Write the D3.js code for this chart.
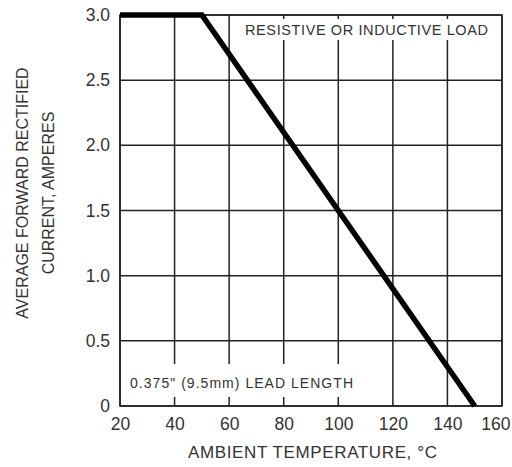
<!DOCTYPE html>
<html>
<head>
<meta charset="utf-8">
<script src="https://cdn.jsdelivr.net/npm/d3@7"></script>
<style>
  body { margin: 0; background: #fff; }
  text { font-family: "Liberation Sans", Arial, sans-serif; fill: #333; }
</style>
</head>
<body>
<script>
// derating curve: temperature (C) vs current (A)
var temps = [20, 50, 150];
var amps = [3.0, 3.0, 0];

var xTicks = [20, 40, 60, 80, 100, 120, 140, 160];
var yTicks = [0, 0.5, 1.0, 1.5, 2.0, 2.5, 3.0];
var yTickLabels = ["0", "0.5", "1.0", "1.5", "2.0", "2.5", "3.0"];

var topNote = "RESISTIVE OR INDUCTIVE LOAD";
var bottomNote = "0.375\" (9.5mm) LEAD LENGTH";
var xTitle = "AMBIENT TEMPERATURE, \u00B0C";
var yTitle = ["AVERAGE FORWARD RECTIFIED", "CURRENT, AMPERES"];

function main(){
  var w = 512, h = 467;
  var left = 120, right = 502, top = 15, bottom = 406;

  var svg = d3.select("body").append("svg")
    .attr("width", w)
    .attr("height", h);

  var x = d3.scaleLinear().domain([20, 160]).range([left, right]);
  var y = d3.scaleLinear().domain([0, 3]).range([bottom, top]);

  //grid lines
  var grid = svg.append("g");
  grid.selectAll("line.v")
    .data(xTicks)
    .enter().append("line")
    .attr("x1", function(d){ return x(d); })
    .attr("x2", function(d){ return x(d); })
    .attr("y1", top).attr("y2", bottom)
    .attr("stroke", "#222").attr("stroke-width", 1.5);
  grid.selectAll("line.h")
    .data(yTicks)
    .enter().append("line")
    .attr("y1", function(d){ return y(d); })
    .attr("y2", function(d){ return y(d); })
    .attr("x1", left).attr("x2", right)
    .attr("stroke", "#222").attr("stroke-width", 1.5);

  //white boxes behind the notes break the grid
  svg.append("rect").attr("x", 238).attr("y", 19).attr("width", 258).attr("height", 21).attr("fill", "#fff");
  svg.append("rect").attr("x", 124).attr("y", 364).attr("width", 236).attr("height", 33).attr("fill", "#fff");

  svg.append("rect")
    .attr("x", left).attr("y", top)
    .attr("width", right - left).attr("height", bottom - top)
    .attr("fill", "none").attr("stroke", "#222").attr("stroke-width", 1.5);

  //axes labels via d3 axes
  var xAxis = svg.append("g")
    .attr("transform", "translate(0," + bottom + ")")
    .call(d3.axisBottom(x).tickValues(xTicks).tickSize(0).tickPadding(12));
  var yAxis = svg.append("g")
    .attr("transform", "translate(" + left + ",0)")
    .call(d3.axisLeft(y).tickValues(yTicks).tickSize(0).tickPadding(10)
      .tickFormat(function(d, i){ return yTickLabels[i]; }));
  [xAxis, yAxis].forEach(function(a){
    a.select(".domain").remove();
    a.selectAll("text").attr("font-size", 17.5).attr("font-family", "Liberation Sans, Arial, sans-serif").attr("fill", "#333");
  });
  //last x label sits at the edge of the page
  xAxis.selectAll("text").filter(function(d){ return d == 160; }).attr("text-anchor", "end").attr("dx", 8);

  //the curve
  var pts = temps.map(function(t, i){ return [t, amps[i]]; });
  svg.append("path")
    .datum(pts)
    .attr("d", d3.line().x(function(d){ return x(d[0]); }).y(function(d){ return y(d[1]); }))
    .attr("fill", "none")
    .attr("stroke", "#000")
    .attr("stroke-width", 5.5);

  //notes
  svg.append("text").attr("x", 245).attr("y", 35)
    .attr("font-size", 14.5).attr("textLength", 243).text(topNote);
  svg.append("text").attr("x", 130).attr("y", 388)
    .attr("font-size", 14).attr("textLength", 223).text(bottomNote);

  //titles
  svg.append("text").attr("x", 188).attr("y", 458)
    .attr("font-size", 17).attr("textLength", 249).text(xTitle);
  yTitle.forEach(function(t, i){
    svg.append("text")
      .attr("transform", "translate(" + (28 + i * 26) + ",193) rotate(-90)")
      .attr("text-anchor", "middle").attr("font-size", 16).text(t);
  });
}

window.onload = function(){
  main();
};
</script>
</body>
</html>
